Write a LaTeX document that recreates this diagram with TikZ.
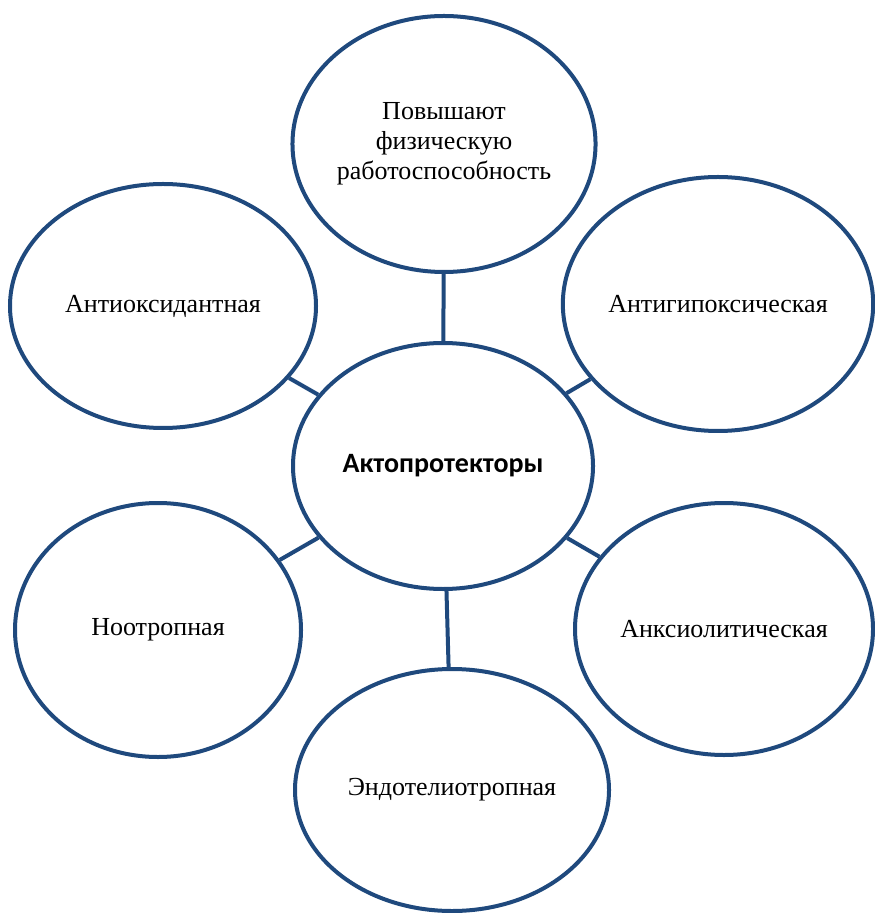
\documentclass[tikz,border=0pt]{standalone}
\usepackage{fontspec}
\setmainfont{Liberation Serif}
\newfontfamily\calibri{Carlito}
\usepackage{tikz}
\usetikzlibrary{positioning}
\usetikzlibrary{shapes}
\usetikzlibrary{calc}
\definecolor{darkblue}{RGB}{31,73,125}

\begin{document}
\begin{tikzpicture}[x=0.5pt,y=-0.5pt]
    % \draw (0,0) grid (874,913);
  \useasboundingbox (0,0) rectangle (874,913);

  \tikzset{node common/.style={draw=darkblue, line width=2pt, ellipse, anchor=center, inner sep=0pt, align=center, font=\fontsize{13}{15}\selectfont}}
  \tikzset{effect node/.style={node common}}
  \tikzset{main node/.style={node common, font=\calibri\bfseries\fontsize{14}{16}\selectfont}}
  \tikzset{link/.style={draw=darkblue, line width=2pt}}

  \coordinate (origin) at (443,466);

  \node[main node, minimum width=150pt, minimum height=123pt] (act) at (origin) {Актопротекторы};
  %
  %
  \node[effect node, minimum width=151pt, minimum height=128pt] (p1) at ($(origin)+(1,-322)$) {Повышают\\физическую\\работоспособность};
  \node[effect node, minimum width=155pt, minimum height=127pt] (p2) at ($(origin)+(275,-162)$) {Антигипоксическая};
  \node[effect node, minimum width=149pt, minimum height=126pt] (p3) at ($(origin)+(281,163)$) {Анксиолитическая};
  \node[effect node, minimum width=157pt, minimum height=121pt] (p4) at ($(origin)+(9,324)$) {Эндотелиотропная};
  \node[effect node, minimum width=143pt, minimum height=127pt] (p5) at ($(origin)+(-285,164)$) {Ноотропная};
  \node[effect node, minimum width=153pt, minimum height=122pt] (p6) at ($(origin)+(-280,-160)$) {Антиоксидантная};
  %
  %
  \foreach \i in {1,...,6}
    \draw[link] (act) -- (p\i);
\end{tikzpicture}
\end{document}
